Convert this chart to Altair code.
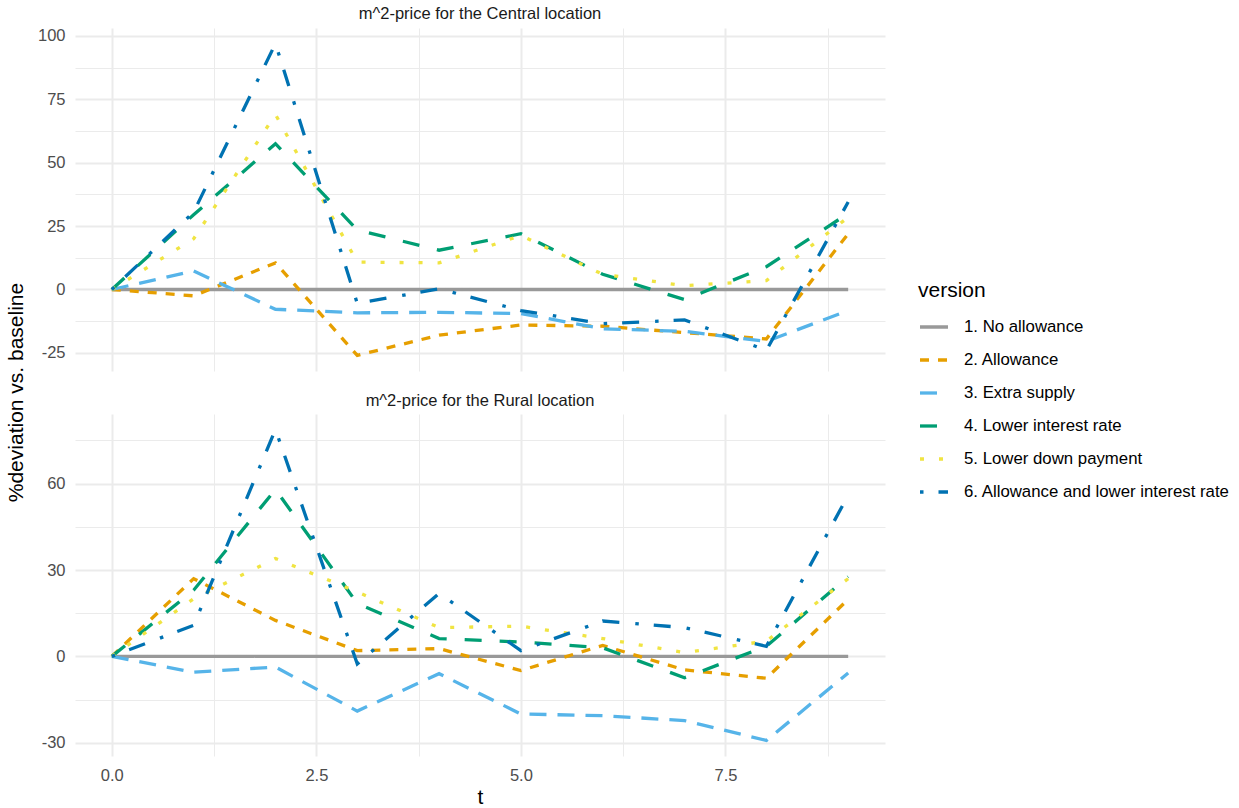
import altair as alt
import pandas as pd

t = [0, 1, 2, 3, 4, 5, 6, 7, 8, 9]

versions = [
    "1. No allowance",
    "2. Allowance",
    "3. Extra supply",
    "4. Lower interest rate",
    "5. Lower down payment",
    "6. Allowance and lower interest rate",
]
colors = ["#999999", "#E69F00", "#56B4E9", "#009E73", "#F0E442", "#0072B2"]
dashes = [[1, 0], [9, 9], [17, 11], [17, 18], [4, 15], [3.5, 15, 17, 16]]

panel_titles = ["m^2-price for the Central location", "m^2-price for the Rural location"]

# Central location (% deviation vs. baseline)
central_no_allowance = [0, 0, 0, 0, 0, 0, 0, 0, 0, 0]
central_allowance = [0, -2.5, 10.5, -26, -18, -14, -14.5, -17, -19.5, 22]
central_extra_supply = [0, 7.3, -7.8, -9.2, -9, -9.5, -15.5, -16.5, -20.5, -8.3]
central_lower_rate = [0, 29.5, 57.5, 23.5, 15.5, 22, 6, -4, 9, 30]
central_lower_down = [0, 20, 69, 10.8, 10.5, 21.3, 6, 1.5, 3.5, 28.5]
central_both = [0, 30.5, 97, -5.5, 0.3, -8.3, -13.5, -12, -24, 34.5]

# Rural location (% deviation vs. baseline)
rural_no_allowance = [0, 0, 0, 0, 0, 0, 0, 0, 0, 0]
rural_allowance = [0, 27, 12.5, 2, 2.7, -4.9, 3.8, -4.7, -7.6, 19.8]
rural_extra_supply = [0, -5.5, -3.7, -19, -6, -20, -20.6, -22.3, -29.2, -5.8]
rural_lower_rate = [0, 23, 58, 18.4, 6.2, 5, 3, -7.4, 3.5, 27.7]
rural_lower_down = [0, 20, 34, 22.4, 10, 10.5, 6.2, 1.3, 5.3, 27]
rural_both = [0, 10.8, 78.8, -2.6, 21.9, 2, 12.3, 10, 3.5, 56]

central = [central_no_allowance, central_allowance, central_extra_supply,
           central_lower_rate, central_lower_down, central_both]
rural = [rural_no_allowance, rural_allowance, rural_extra_supply,
         rural_lower_rate, rural_lower_down, rural_both]


def long_frame(series_list):
    rows = []
    for v, vals in zip(versions, series_list):
        for ti, val in zip(t, vals):
            rows.append({"t": ti, "value": val, "version": v})
    return pd.DataFrame(rows)


FONT = "Liberation Sans"
GRID = "#ebebeb"

x_grid_values = [0, 1.25, 2.5, 3.75, 5, 6.25, 7.5, 8.75]


def x_axis(show):
    common = dict(
        values=x_grid_values,
        grid=True,
        gridColor=GRID,
        gridWidth={"condition": {"test": "datum.value % 2.5 == 0", "value": 2}, "value": 1},
        ticks=False,
        domain=False,
    )
    if show:
        return alt.Axis(
            title="t",
            labelExpr="datum.value % 2.5 == 0 ? format(datum.value, '.1f') : ''",
            labelPadding=11,
            titlePadding=3,
            **common,
        )
    return alt.Axis(title=None, labels=False, **common)


def y_axis(values, step, with_title):
    test = "datum.value % " + str(step) + " == 0"
    common = dict(
        values=values,
        grid=True,
        gridColor=GRID,
        gridWidth={"condition": {"test": test, "value": 2}, "value": 1},
        ticks=False,
        domain=False,
        labelExpr=test + " ? toString(datum.value) : ''",
        labelPadding=10,
    )
    if with_title:
        return alt.Axis(
            title="%deviation vs. baseline",
            titleX=-49,
            titleY=364,
            titleAngle=270,
            titleAlign="center",
            titleBaseline="bottom",
            **common,
        )
    return alt.Axis(title=None, **common)


def panel(series_list, title, yvals, step, top, height):
    df = long_frame(series_list)
    lo = min(min(s) for s in series_list)
    hi = max(max(s) for s in series_list)
    pad = 0.05 * (hi - lo)
    legend = alt.Legend(
        title="version",
        orient="none",
        legendX=843,
        legendY=252,
        symbolType="stroke",
        symbolSize=784,
        symbolStrokeWidth=3.3,
        labelOffset=14,
        rowPadding=8,
        titlePadding=10,
    )
    return (
        alt.Chart(df)
        .mark_line(strokeWidth=3.3)
        .encode(
            x=alt.X("t:Q", scale=alt.Scale(domain=[-0.45, 9.45], nice=False, zero=False),
                    axis=x_axis(not top)),
            y=alt.Y("value:Q", scale=alt.Scale(domain=[lo - pad, hi + pad], nice=False, zero=False),
                    axis=y_axis(yvals, step, top)),
            color=alt.Color("version:N", scale=alt.Scale(domain=versions, range=colors), legend=legend),
            strokeDash=alt.StrokeDash("version:N", scale=alt.Scale(domain=versions, range=dashes),
                                      legend=legend),
        )
        .properties(width=810, height=height, title=alt.TitleParams(title))
    )


top = panel(central, panel_titles[0], [-25, -12.5, 0, 12.5, 25, 37.5, 50, 62.5, 75, 87.5, 100], 25, True, 343)
bottom = panel(rural, panel_titles[1], [-30, -15, 0, 15, 30, 45, 60, 75], 30, False, 342)

chart = (
    alt.vconcat(top, bottom, spacing=43, bounds="flush")
    .properties(padding={"left": 5, "top": 6, "right": 5, "bottom": 5})
    .configure_view(stroke=None)
    .configure_axis(
        labelFont=FONT,
        labelFontSize=16.5,
        labelColor="#4d4d4d",
        titleFont=FONT,
        titleFontSize=21,
        titleColor="#000000",
        titleFontWeight="normal",
    )
    .configure_title(
        font=FONT,
        fontSize=16.5,
        color="#1a1a1a",
        fontWeight="normal",
        anchor="middle",
        offset=5,
    )
    .configure_legend(
        labelFont=FONT,
        labelFontSize=16.8,
        labelColor="#000000",
        titleFont=FONT,
        titleFontSize=21,
        titleColor="#000000",
        titleFontWeight="normal",
        labelLimit=400,
    )
)

chart.save("out.html", embed_options={"renderer": "svg", "actions": False})
